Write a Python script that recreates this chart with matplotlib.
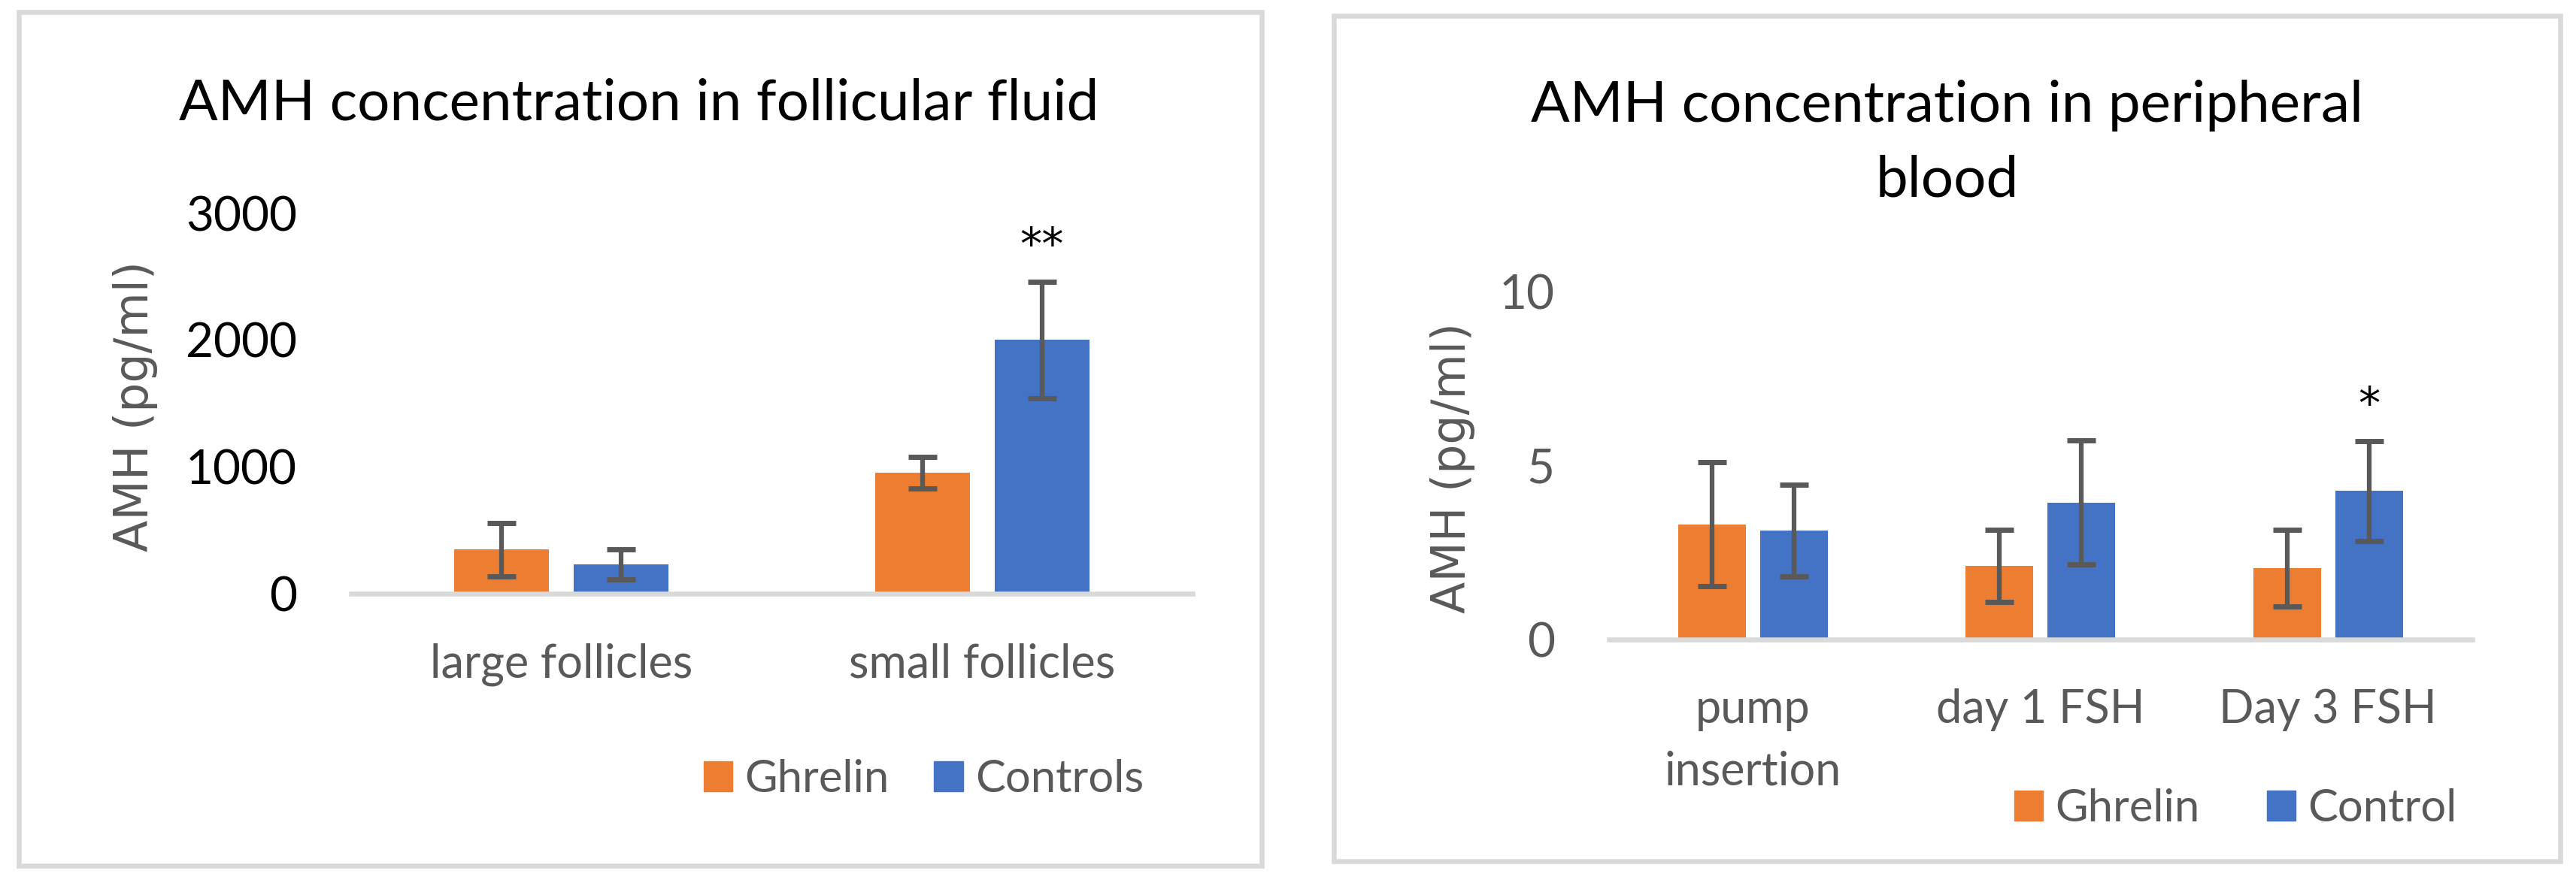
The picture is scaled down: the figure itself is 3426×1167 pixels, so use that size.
import matplotlib
matplotlib.use("Agg")
import matplotlib.pyplot as plt
from matplotlib.patches import Rectangle, Patch
from matplotlib.transforms import offset_copy
import numpy as np

plt.rcParams['font.family'] = ['Lato', 'DejaVu Sans']

# ---------------- data ----------------
ff_categories = ["large follicles", "small follicles"]
ff_ghrelin = [348, 955]
ff_ghrelin_err = [209, 123]
ff_controls = [232, 2000]
ff_controls_err = [120, 460]
ff_sig_labels = ["", "**"]
ff_sig_y = [None, 2839]
ff_yticks = [0, 1000, 2000, 3000]

pb_categories = ["pump\ninsertion", "day 1 FSH", "Day 3 FSH"]
pb_ghrelin = [3.31, 2.12, 2.05]
pb_ghrelin_err = [1.78, 1.04, 1.10]
pb_control = [3.14, 3.94, 4.27]
pb_control_err = [1.32, 1.79, 1.43]
pb_sig_labels = ["", "", "*"]
pb_sig_y = [None, None, 7.08]
pb_yticks = [0, 5, 10]

ORANGE = "#ED7D31"
BLUE = "#4472C4"
GRAY = "#595959"
LIGHT = "#D9D9D9"

W, H = 3426, 1167
DPI = 100
fig = plt.figure(figsize=(W / DPI, H / DPI), dpi=DPI)
fig.patch.set_facecolor("white")

def px(x0, y0, x1, y1):
    return [x0 / W, 1 - y1 / H, (x1 - x0) / W, (y1 - y0) / H]

# panel borders
fig.patches.append(Rectangle((25 / W, 1 - 1152 / H), 1653 / W, 1136 / H,
                             transform=fig.transFigure, fill=False,
                             edgecolor=LIGHT, linewidth=4.7))
fig.patches.append(Rectangle((1773.5 / W, 1 - 1146 / H), 1631 / W, 1125.5 / H,
                             transform=fig.transFigure, fill=False,
                             edgecolor=LIGHT, linewidth=4.7))

err_kw = dict(ecolor=GRAY, elinewidth=4.5, capsize=13.7, capthick=5)

def style_axes(ax, tick_color):
    for s in ["top", "right", "left"]:
        ax.spines[s].set_visible(False)
    ax.spines["bottom"].set_color(LIGHT)
    ax.spines["bottom"].set_linewidth(4.7)
    ax.tick_params(axis="y", length=0, pad=52, labelsize=46, labelcolor=tick_color)
    ax.tick_params(axis="x", length=0, labelsize=44, labelcolor=GRAY, pad=47)
    for lab in ax.get_xticklabels():
        lab.set_va("top")
        lab.set_linespacing(1.55)

def add_sig(ax, xs, labels, ys):
    tr = offset_copy(ax.transData, fig=fig, x=0, y=-34, units="dots")
    for xi, lab, yy in zip(xs, labels, ys):
        if lab:
            ax.text(xi, yy, lab, ha="center", va="baseline", fontsize=42,
                    color="black", family="DejaVu Sans", transform=tr)

# ---------------- left chart ----------------
ax1 = fig.add_axes(px(467, 283.7, 1586, 790))
x1 = np.arange(len(ff_categories))
off, bw = 0.142, 0.225
ax1.bar(x1 - off, ff_ghrelin, bw, yerr=ff_ghrelin_err, color=ORANGE,
        error_kw=err_kw, label="Ghrelin", zorder=2)
ax1.bar(x1 + off, ff_controls, bw, yerr=ff_controls_err, color=BLUE,
        error_kw=err_kw, label="Controls", zorder=2)
ax1.set_xlim(-0.5, len(ff_categories) - 0.5)
ax1.set_ylim(0, 3000)
ax1.set_yticks(ff_yticks)
ax1.set_xticks(x1)
ax1.set_xticklabels(ff_categories)
style_axes(ax1, "black")
add_sig(ax1, x1 + off, ff_sig_labels, ff_sig_y)

fig.text(850 / W, 1 - 159 / H, "AMH concentration in follicular fluid",
         ha="center", va="baseline", fontsize=55, color="black")
fig.text(180 / W, 1 - 541 / H, "AMH (pg/ml)", rotation=90, ha="center", va="center",
         fontsize=44.6, color=GRAY, family="DejaVu Sans")
fig.legend(handles=[Patch(color=ORANGE, label="Ghrelin"), Patch(color=BLUE, label="Controls")],
           loc="center", bbox_to_anchor=(1228.5 / W, 1 - 1037 / H), ncol=2, frameon=False,
           fontsize=43, labelcolor=GRAY, handlelength=0.64, handleheight=0.64,
           handletextpad=0.27, columnspacing=1.0, borderpad=0, borderaxespad=0)

# ---------------- right chart ----------------
ax2 = fig.add_axes(px(2140, 388, 3287.5, 851))
x2 = np.arange(len(pb_categories))
off2, bw2 = 0.142, 0.235
ax2.bar(x2 - off2, pb_ghrelin, bw2, yerr=pb_ghrelin_err, color=ORANGE,
        error_kw=err_kw, label="Ghrelin", zorder=2)
ax2.bar(x2 + off2, pb_control, bw2, yerr=pb_control_err, color=BLUE,
        error_kw=err_kw, label="Control", zorder=2)
ax2.set_xlim(-0.5, len(pb_categories) - 0.5)
ax2.set_ylim(0, 10)
ax2.set_yticks(pb_yticks)
ax2.set_xticks(x2)
ax2.set_xticklabels(pb_categories)
style_axes(ax2, GRAY)
add_sig(ax2, x2 + off2, pb_sig_labels, pb_sig_y)

fig.text(2590 / W, 1 - 162 / H, "AMH concentration in peripheral",
         ha="center", va="baseline", fontsize=55, color="black")
fig.text(2590 / W, 1 - 262 / H, "blood",
         ha="center", va="baseline", fontsize=55, color="black")
fig.text(1932 / W, 1 - 623 / H, "AMH (pg/ml)", rotation=90, ha="center", va="center",
         fontsize=44.6, color=GRAY, family="DejaVu Sans")
fig.legend(handles=[Patch(color=ORANGE, label="Ghrelin"), Patch(color=BLUE, label="Control")],
           loc="center", bbox_to_anchor=(2973.5 / W, 1 - 1076 / H), ncol=2, frameon=False,
           fontsize=43, labelcolor=GRAY, handlelength=0.64, handleheight=0.64,
           handletextpad=0.27, columnspacing=1.5, borderpad=0, borderaxespad=0)

fig.savefig("out.png", dpi=DPI, facecolor="white")
